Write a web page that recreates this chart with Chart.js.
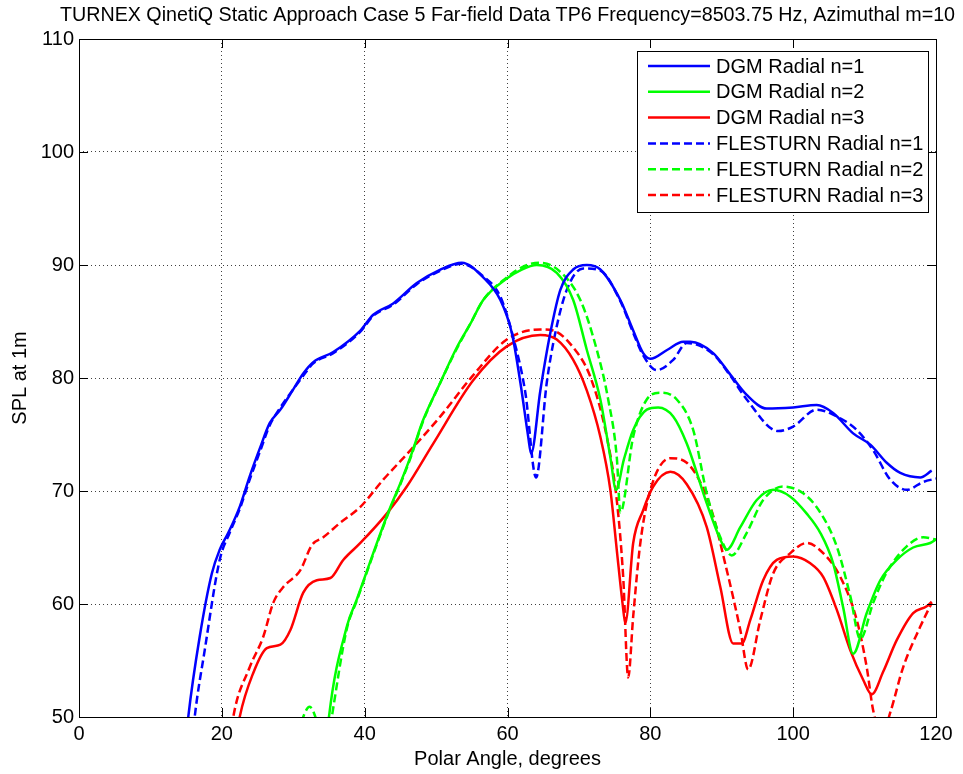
<!DOCTYPE html>
<html lang="en">
<head>
<meta charset="UTF-8">
<title>TURNEX QinetiQ far-field TP6</title>
<script src="https://cdn.jsdelivr.net/npm/chart.js"></script>
<style>
    body { margin: 0; background: #fff; }
    #wrap { width: 963px; height: 774px; }
</style>
</head>
<body>
<div id="wrap"><canvas id="chart" width="963" height="774"></canvas></div>
<script>
    // values (polar angle in degrees, SPL at 1m)
    const dgm1Angle = [15.0, 15.3, 16.9, 18.6, 19.7, 20.9, 22.5, 23.9, 25.4, 26.7, 28.2, 30.0, 31.4, 32.8, 35.6, 39.4, 41.2, 44.0, 47.3, 50.6, 53.6, 56.6, 59.0, 60.6, 61.8, 62.9, 63.3, 64.6, 66.0, 67.4, 69.2, 71.1, 73.0, 75.8, 77.6, 79.0, 80.0, 82.4, 84.6, 85.6, 88.8, 91.2, 93.5, 96.3, 100.0, 103.3, 105.6, 108.4, 110.8, 113.1, 115.0, 117.8, 119.4];
    const dgm1Spl = [48, 50.0, 57.1, 62.7, 64.8, 66.3, 68.6, 71.3, 73.9, 76.0, 77.2, 79.0, 80.4, 81.4, 82.3, 84.2, 85.6, 86.6, 88.4, 89.6, 90.2, 88.9, 86.9, 84.0, 79.6, 74.8, 73.3, 78.9, 84.0, 87.8, 89.6, 90.0, 89.6, 86.9, 84.2, 82.2, 81.7, 82.5, 83.2, 83.2, 82.2, 80.3, 78.5, 77.3, 77.4, 77.6, 76.9, 75.1, 74.1, 72.5, 71.6, 71.2, 71.8];

    const dgm2Angle = [34.6, 35.0, 37.5, 38.9, 41.2, 43.3, 45.0, 46.4, 48.2, 50.6, 52.9, 54.8, 56.6, 59.9, 62.0, 64.1, 66.9, 69.2, 71.1, 73.0, 74.4, 75.2, 76.3, 77.6, 79.5, 81.1, 83.2, 85.1, 87.9, 89.8, 90.7, 92.6, 94.9, 97.2, 99.6, 101.9, 103.8, 105.6, 107.0, 108.4, 110.3, 112.2, 114.5, 116.8, 119.2, 120];
    const dgm2Spl = [47, 50, 58.0, 60.4, 64.5, 68.1, 70.7, 73.0, 76.3, 79.6, 82.7, 84.8, 86.9, 88.8, 89.6, 90.0, 89.3, 86.9, 82.5, 78.1, 73.0, 70.1, 72.8, 75.4, 77.2, 77.4, 76.6, 74.2, 68.9, 65.7, 64.8, 66.8, 69.2, 70.1, 69.5, 68.0, 66.3, 63.6, 59.7, 55.6, 59.2, 62.1, 63.9, 65.0, 65.4, 65.7];

    const dgm3Angle = [22.0, 22.5, 24.4, 26.3, 28.2, 29.6, 31.4, 33.3, 35.2, 37.0, 39.4, 43.1, 45.9, 49.6, 55.2, 59.9, 64.6, 66.9, 69.2, 71.1, 73.0, 74.4, 75.3, 76.1, 76.5, 77.6, 79.0, 80.4, 82.8, 85.1, 87.9, 89.8, 91.6, 92.8, 94.0, 95.8, 97.7, 100.0, 102.4, 104.2, 106.1, 108.0, 109.8, 111.0, 112.6, 114.5, 116.8, 118.7, 119.4];
    const dgm3Spl = [48, 50, 53.9, 56.1, 56.4, 57.7, 61.0, 62.1, 62.3, 63.9, 65.4, 68.0, 70.4, 74.2, 79.8, 82.8, 83.8, 83.4, 81.6, 78.9, 74.8, 70.1, 64.8, 60.1, 58.3, 65.4, 68.3, 70.4, 71.7, 70.6, 66.8, 61.5, 56.5, 56.5, 58.6, 62.1, 63.9, 64.2, 63.6, 62.4, 59.5, 55.9, 53.3, 52.0, 54.0, 56.8, 59.2, 59.8, 60.2];

    const fle1Angle = [15.9, 16.2, 17.6, 19.7, 21.1, 22.5, 23.9, 25.4, 26.7, 28.2, 30.0, 31.4, 32.8, 35.6, 39.4, 41.2, 44.0, 47.3, 50.6, 53.6, 56.6, 59.0, 60.8, 62.5, 64.0, 65.5, 66.7, 68.3, 70.6, 73.0, 75.8, 77.6, 79.0, 80.9, 83.2, 85.1, 88.8, 91.2, 93.5, 97.9, 100.0, 103.3, 106.1, 108.9, 111.2, 113.6, 115.9, 118.2, 120];
    const fle1Spl = [48, 50, 55.9, 63.9, 66.3, 68.4, 71.0, 73.6, 75.8, 77.4, 79.0, 80.2, 81.3, 82.2, 84.1, 85.5, 86.5, 88.3, 89.5, 90.1, 89.0, 87.2, 83.6, 78.7, 71.2, 79.6, 84.0, 87.8, 89.7, 89.5, 86.8, 84.0, 82.0, 80.7, 81.6, 83.1, 82.1, 80.2, 78.1, 75.3, 75.7, 77.2, 76.6, 75.4, 73.6, 71.0, 70.1, 70.8, 71.1];

    const fle2Angle = [30.4, 31.4, 32.3, 33.1, 34.0, 34.8, 35.4, 37.5, 38.9, 41.2, 43.3, 45.0, 46.4, 48.2, 50.6, 52.9, 54.8, 56.6, 59.9, 62.0, 64.4, 67.2, 70.2, 72.5, 74.1, 75.3, 75.8, 77.6, 79.5, 81.4, 83.7, 86.0, 87.9, 89.8, 91.4, 93.5, 95.8, 98.6, 101.4, 103.8, 106.1, 108.0, 109.4, 111.2, 113.1, 115.9, 118.2, 120];
    const fle2Spl = [47.5, 50, 50.9, 50, 47.5, 47.5, 50, 57.8, 60.3, 64.4, 68.0, 70.6, 72.9, 76.2, 79.6, 82.6, 84.8, 86.9, 88.9, 89.8, 90.2, 89.5, 86.9, 82.5, 78.1, 73.0, 68.1, 74.8, 78.1, 78.7, 78.1, 75.4, 69.8, 65.9, 64.3, 66.3, 69.2, 70.4, 69.8, 68.1, 65.1, 60.7, 56.9, 60.1, 62.8, 65.1, 65.9, 65.7];

    const fle3Angle = [21.2, 21.6, 23.9, 25.8, 27.2, 28.6, 31.0, 32.6, 34.2, 36.6, 39.4, 42.6, 46.4, 50.6, 55.0, 59.9, 64.6, 66.4, 69.2, 71.6, 73.9, 75.3, 76.2, 76.9, 77.6, 78.6, 80.0, 82.8, 85.1, 88.4, 90.7, 92.6, 93.7, 95.4, 97.2, 99.6, 101.9, 104.2, 106.6, 108.9, 110.3, 111.2, 112.5, 113.6, 115.4, 117.8, 119.4];
    const fle3Spl = [48, 50, 54.4, 57.1, 60.1, 61.5, 63.0, 65.2, 65.9, 67.2, 68.6, 71.0, 73.6, 76.6, 80.1, 83.4, 84.3, 84.2, 82.7, 80.1, 74.8, 69.2, 62.4, 53.5, 58.9, 65.4, 70.1, 72.9, 72.5, 68.6, 63.0, 57.7, 54.2, 58.6, 62.7, 64.5, 65.4, 64.5, 62.4, 58.6, 54.4, 50.6, 48.5, 50.4, 54.4, 58.0, 60.1];

    const xTicks = [0, 20, 40, 60, 80, 100, 120];
    const yTicks = [50, 60, 70, 80, 90, 100, 110];

    const titleText = 'TURNEX QinetiQ Static Approach Case 5 Far-field Data TP6 Frequency=8503.75 Hz, Azimuthal m=10';
    const fontFamily = '"Liberation Sans", Arial, Helvetica, sans-serif';

    Chart.defaults.font.family = fontFamily;
    Chart.defaults.color = '#000';

    function pts(xs, ys) {
        return xs.map((x, i) => ({ x: x, y: ys[i] }));
    }

    function series(label, xs, ys, color, dashed) {
        return {
            label: label,
            data: pts(xs, ys),
            borderColor: color,
            backgroundColor: color,
            borderWidth: 2.5,
            borderDash: dashed ? [8, 4] : [],
            pointRadius: 0,
            cubicInterpolationMode: 'monotone',
            fill: false
        };
    }

    // frame, inward ticks, boxed legend and title, like the matlab figure
    const matlabBits = {
        id: 'matlabBits',
        afterDatasetsDraw(chart) {
            const ctx = chart.ctx;
            const a = chart.chartArea;
            const xs = chart.scales.x, ys = chart.scales.y;
            ctx.save();
            ctx.strokeStyle = '#000';
            ctx.lineWidth = 1;
            ctx.setLineDash([]);
            ctx.strokeRect(Math.round(a.left) + 0.5, Math.round(a.top) + 0.5,
                Math.round(a.right - a.left), Math.round(a.bottom - a.top));

            ctx.beginPath();
            xTicks.forEach(v => {
                const px = Math.round(xs.getPixelForValue(v)) + 0.5;
                ctx.moveTo(px, a.bottom); ctx.lineTo(px, a.bottom - 9);
                ctx.moveTo(px, a.top); ctx.lineTo(px, a.top + 9);
            });
            yTicks.forEach(v => {
                const py = Math.round(ys.getPixelForValue(v)) + 0.5;
                ctx.moveTo(a.left, py); ctx.lineTo(a.left + 9, py);
                ctx.moveTo(a.right, py); ctx.lineTo(a.right - 9, py);
            });
            ctx.stroke();

            // legend box
            const lx = 637, ly = 51, lw = 291, lh = 161;
            ctx.fillStyle = '#fff';
            ctx.fillRect(lx, ly, lw, lh);
            ctx.strokeStyle = '#000';
            ctx.strokeRect(lx + 0.5, ly + 0.5, lw, lh);
            ctx.font = '20px ' + fontFamily;
            ctx.textBaseline = 'middle';
            ctx.textAlign = 'left';
            chart.data.datasets.forEach((ds, i) => {
                const y = ly + 15 + i * 25.8;
                ctx.strokeStyle = ds.borderColor;
                ctx.lineWidth = 2.5;
                ctx.setLineDash(ds.borderDash);
                ctx.beginPath();
                ctx.moveTo(648, y); ctx.lineTo(710, y);
                ctx.stroke();
                ctx.setLineDash([]);
                ctx.fillStyle = '#000';
                ctx.fillText(ds.label, 716, y + 1);
            });

            ctx.textAlign = 'center';
            ctx.font = '19.7px ' + fontFamily;
            ctx.fillText(titleText, (a.left + a.right) / 2, 16);
            ctx.restore();
        }
    };

    new Chart(document.getElementById('chart'), {
        type: 'line',
        data: {
            datasets: [
                series('DGM Radial n=1', dgm1Angle, dgm1Spl, '#0000ff', false),
                series('DGM Radial n=2', dgm2Angle, dgm2Spl, '#00ff00', false),
                series('DGM Radial n=3', dgm3Angle, dgm3Spl, '#ff0000', false),
                series('FLESTURN Radial n=1', fle1Angle, fle1Spl, '#0000ff', true),
                series('FLESTURN Radial n=2', fle2Angle, fle2Spl, '#00ff00', true),
                series('FLESTURN Radial n=3', fle3Angle, fle3Spl, '#ff0000', true)
            ]
        },
        options: {
            responsive: false,
            animation: false,
            layout: { padding: { top: 39, right: 27, left: 0, bottom: 0 } },
            plugins: {
                legend: { display: false },
                title: { display: false },
                tooltip: { enabled: false }
            },
            scales: {
                x: {
                    type: 'linear',
                    min: 0, max: 120,
                    afterFit(scale) { scale.height = 57; },
                    afterBuildTicks(scale) { scale.ticks = xTicks.map(v => ({ value: v })); },
                    grid: { color: 'rgba(0,0,0,0.75)', lineWidth: 1, drawTicks: false },
                    border: { display: false, dash: [1, 3] },
                    ticks: { color: '#000', padding: 5, font: { size: 20 } },
                    title: {
                        display: true, text: 'Polar Angle, degrees', color: '#000',
                        font: { size: 20 }, padding: { top: 0, bottom: 3 }
                    }
                },
                y: {
                    min: 50, max: 110,
                    afterFit(scale) { scale.width = 79; },
                    afterBuildTicks(scale) { scale.ticks = yTicks.map(v => ({ value: v })); },
                    grid: { color: 'rgba(0,0,0,0.75)', lineWidth: 1, drawTicks: false },
                    border: { display: false, dash: [1, 3] },
                    ticks: { color: '#000', padding: 5, font: { size: 20 } },
                    title: {
                        display: true, text: 'SPL at 1m', color: '#000',
                        font: { size: 20 }, padding: { top: 8, bottom: 0 }
                    }
                }
            }
        },
        plugins: [matlabBits]
    });
</script>
</body>
</html>
